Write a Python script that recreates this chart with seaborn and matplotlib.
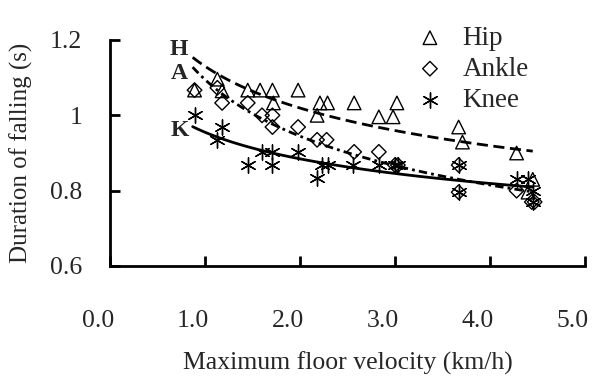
import numpy as np
import pandas as pd
import matplotlib
matplotlib.use("Agg")
import matplotlib.pyplot as plt
import matplotlib.transforms as mtransforms
import seaborn as sns

# values
hip_x = [0.89, 1.13, 1.18, 1.45, 1.58, 1.71, 1.72, 1.98, 2.18, 2.21, 2.29, 2.57, 2.83, 2.98, 3.02, 3.67, 3.71, 4.28, 4.45, 4.40]
hip_y = [1.067, 1.096, 1.065, 1.067, 1.067, 1.067, 1.033, 1.067, 1.0, 1.033, 1.033, 1.033, 0.996, 0.996, 1.033, 0.969, 0.929, 0.90, 0.83, 0.796]

ankle_x = [0.89, 1.13, 1.18, 1.45, 1.60, 1.71, 1.71, 1.98, 2.18, 2.28, 2.57, 2.83, 3.00, 3.03, 3.67, 3.67, 4.28, 4.44, 4.47]
ankle_y = [1.067, 1.073, 1.033, 1.033, 1.0, 1.0, 0.969, 0.969, 0.935, 0.935, 0.903, 0.903, 0.868, 0.868, 0.868, 0.796, 0.80, 0.77, 0.77]

knee_x = [0.89, 1.18, 1.13, 1.45, 1.60, 1.71, 1.71, 1.98, 2.18, 2.23, 2.29, 2.56, 2.83, 3.00, 3.03, 3.67, 3.67, 4.28, 4.40, 4.45, 4.45]
knee_y = [1.0, 0.969, 0.935, 0.868, 0.903, 0.903, 0.868, 0.903, 0.834, 0.868, 0.868, 0.868, 0.868, 0.868, 0.868, 0.868, 0.796, 0.83, 0.83, 0.80, 0.77]

x_ticks = [0.0, 1.0, 2.0, 3.0, 4.0, 5.0]
y_ticks = [0.6, 0.8, 1.0, 1.2]
y_tick_labels = ["0.6", "0.8", "1", "1.2"]

sns.set_style("ticks")
plt.rcParams["font.family"] = ["Liberation Serif", "DejaVu Serif"]

fig = plt.figure(figsize=(6, 3.8), dpi=100)
ax = fig.add_axes([110/600, 1-266/380, 475/600, 226/380])

hip = pd.DataFrame({"x": hip_x, "y": hip_y})
ankle = pd.DataFrame({"x": ankle_x, "y": ankle_y})
knee = pd.DataFrame({"x": knee_x, "y": knee_y})

# power trendlines y = a * x^b, fitted on the points
def power_fit(df):
    b, loga = np.polyfit(np.log(df.x), np.log(df.y), 1)
    xs = np.linspace(df.x.min() - 0.02, df.x.max(), 100)
    return xs, np.exp(loga) * xs ** b

xs, ys = power_fit(hip)
ax.plot(xs, ys, color="k", lw=2, ls=(0, (4, 2)))
xs, ys = power_fit(ankle)
ax.plot(xs, ys, color="k", lw=2, ls=(0, (3, 1.5, 1, 1.5)))
xs, ys = power_fit(knee)
ax.plot(xs, ys, color="k", lw=2, ls="-")

sns.scatterplot(data=hip, x="x", y="y", ax=ax, marker="^", s=95,
                facecolor="none", edgecolor="k", linewidth=1, label="Hip")
sns.scatterplot(data=ankle, x="x", y="y", ax=ax, marker="D", s=55,
                facecolor="none", edgecolor="k", linewidth=1, label="Ankle")
sns.scatterplot(data=knee, x="x", y="y", ax=ax, marker=(6, 2, 0), s=120,
                color="k", linewidth=1, label="Knee")

ax.text(0.72, 1.175, "H", fontsize=17, fontweight="bold", ha="center", va="center")
ax.text(0.73, 1.110, "A", fontsize=17, fontweight="bold", ha="center", va="center")
ax.text(0.73, 0.960, "K", fontsize=17, fontweight="bold", ha="center", va="center")

ax.set_xlim(0, 5)
ax.set_ylim(0.6, 1.2)
ax.set_xticks(x_ticks)
ax.set_xticklabels([f"{t:.1f}" for t in x_ticks])
ax.set_yticks(y_ticks)
ax.set_yticklabels(y_tick_labels)
ax.tick_params(direction="in", length=7, width=2, labelsize=18.5, color="k")
ax.tick_params(axis="x", pad=32)
ax.tick_params(axis="y", pad=20)
shift = mtransforms.ScaledTranslation(-12/100, 0, fig.dpi_scale_trans)
for lab in ax.get_xticklabels():
    lab.set_transform(lab.get_transform() + shift)

for side in ["top", "right"]:
    ax.spines[side].set_visible(False)
for side in ["left", "bottom"]:
    ax.spines[side].set_linewidth(2)
    ax.spines[side].set_color("k")

ax.set_xlabel("Maximum floor velocity (km/h)", fontsize=18.5, labelpad=14)
ax.set_ylabel("Duration of falling (s)", fontsize=18, labelpad=12)

ax.legend(loc="upper left", bbox_to_anchor=(392/600, 1-15/380), bbox_transform=fig.transFigure,
          frameon=False, fontsize=19.5, handletextpad=0.2, labelspacing=0.22, borderaxespad=0)

fig.savefig("out.png", dpi=100)
